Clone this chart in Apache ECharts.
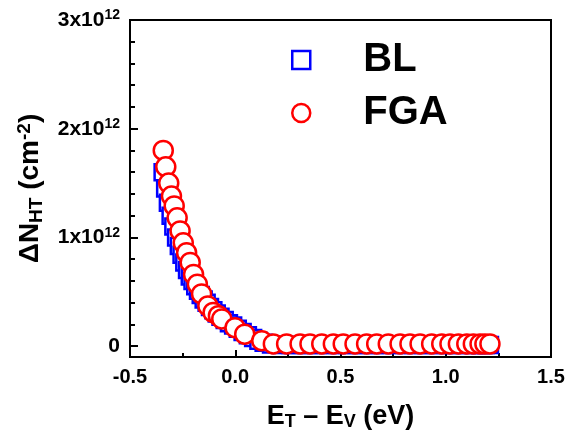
<!DOCTYPE html>
<html>
<head>
<meta charset="utf-8">
<script src="https://cdn.jsdelivr.net/npm/echarts@6/dist/echarts.min.js"></script>
<style>
  html, body { margin: 0; padding: 0; background: #fff; }
  #chart { width: 578px; height: 432px; }
</style>
</head>
<body>
<div id="chart"></div>
<script>
// Trap density vs trap energy; densities in units of 10^12 cm^-2
const blX = [-0.345, -0.333, -0.320, -0.307, -0.294, -0.281, -0.268, -0.255, -0.242, -0.229,
             -0.216, -0.203, -0.190, -0.177, -0.164, -0.150, -0.136, -0.120, -0.104, -0.088,
             -0.070, -0.050, -0.030, -0.010, 0.012, 0.035, 0.060, 0.085, 0.110, 0.135,
             0.170, 0.215, 0.260, 0.305, 0.350, 0.395, 0.440, 0.485, 0.530, 0.575,
             0.620, 0.665, 0.710, 0.755, 0.800, 0.845, 0.890, 0.935, 0.980, 1.020,
             1.060, 1.100, 1.135, 1.165, 1.190, 1.210];
const blY = [1.60, 1.45, 1.32, 1.20, 1.10, 1.00, 0.92, 0.84, 0.77, 0.70,
             0.64, 0.60, 0.55, 0.51, 0.47, 0.43, 0.40, 0.36, 0.33, 0.30,
             0.27, 0.24, 0.21, 0.19, 0.16, 0.13, 0.10, 0.075, 0.05, 0.03,
             0.015, 0.01, 0.01, 0.01, 0.01, 0.01, 0.01, 0.01, 0.01, 0.01,
             0.01, 0.01, 0.01, 0.01, 0.01, 0.01, 0.01, 0.01, 0.01, 0.01,
             0.01, 0.01, 0.01, 0.01, 0.01, 0.01];

const fgaX = [-0.342, -0.330, -0.316, -0.303, -0.290, -0.276, -0.262, -0.247, -0.231, -0.214,
              -0.198, -0.180, -0.160, -0.130, -0.105, -0.080, -0.064, -0.001, 0.045, 0.126,
              0.181, 0.244, 0.308, 0.355, 0.411, 0.466, 0.513, 0.569, 0.624, 0.672,
              0.727, 0.783, 0.830, 0.878, 0.933, 0.981, 1.020, 1.060, 1.100, 1.131,
              1.163, 1.186, 1.210];
const fgaY = [1.80, 1.65, 1.50, 1.38, 1.29, 1.18, 1.06, 0.95, 0.86, 0.77,
              0.66, 0.57, 0.48, 0.37, 0.31, 0.28, 0.25, 0.17, 0.11, 0.05,
              0.02, 0.02, 0.02, 0.02, 0.02, 0.02, 0.02, 0.02, 0.02, 0.02,
              0.02, 0.02, 0.02, 0.02, 0.02, 0.02, 0.02, 0.02, 0.02, 0.02,
              0.02, 0.02, 0.02];

const seriesNames = ['BL', 'FGA'];
const yMajorTicks = [0, 1, 2, 3];
const yMinorTicks = [0.2, 0.4, 0.6, 0.8, 1.2, 1.4, 1.6, 1.8, 2.2, 2.4, 2.6, 2.8];

const FONT = 'Arial, "Liberation Sans", Helvetica, sans-serif';
const zip = (xs, ys) => xs.map((x, i) => [x, ys[i]]);

const chart = echarts.init(document.getElementById('chart'));
chart.setOption({
  animation: false,
  backgroundColor: '#fff',
  grid: {
    left: 130, right: 27, top: 20, bottom: 75,
    outerBoundsMode: 'none',
    show: true, borderColor: '#000', borderWidth: 2, backgroundColor: 'transparent'
  },
  legend: {
    orient: 'vertical',
    left: 286, top: 35,
    itemWidth: 18, itemHeight: 18, itemGap: 13,
    textStyle: { fontFamily: FONT, fontSize: 40, fontWeight: 'bold', color: '#000', padding: [0, 0, 0, 48] },
    data: [
      { name: seriesNames[0], icon: 'rect', itemStyle: { color: '#fff', borderColor: '#0000ff', borderWidth: 2.5 } },
      { name: seriesNames[1], icon: 'circle', itemStyle: { color: '#fff', borderColor: '#ff0000', borderWidth: 2.5 } }
    ]
  },
  xAxis: {
    type: 'value', min: -0.5, max: 1.5, interval: 0.5,
    axisLine: { onZero: false, lineStyle: { color: '#000', width: 2 } },
    axisTick: { inside: true, length: 7, lineStyle: { color: '#000', width: 2 } },
    minorTick: { show: true, splitNumber: 2, length: 4, lineStyle: { color: '#000', width: 2 } },
    splitLine: { show: false },
    axisLabel: {
      margin: 10, color: '#000', fontFamily: FONT, fontSize: 20, fontWeight: 'bold',
      formatter: v => v.toFixed(1)
    },
    name: '{m|E}{s|T}{m| – E}{s|V}{m| (eV)}',
    nameLocation: 'middle', nameGap: 46,
    nameTextStyle: {
      rich: {
        m: { fontFamily: FONT, fontSize: 27, fontWeight: 'bold', color: '#000' },
        s: { fontFamily: FONT, fontSize: 18, fontWeight: 'bold', color: '#000', padding: [10, 0, 0, 0] }
      }
    }
  },
  yAxis: [
    {
      type: 'value', min: -0.1, max: 3, position: 'left',
      axisLine: { onZero: false, lineStyle: { color: '#000', width: 2 } },
      axisTick: { inside: true, length: 8, customValues: yMajorTicks, lineStyle: { color: '#000', width: 2 } },
      splitLine: { show: false },
      axisLabel: {
        margin: 10, customValues: yMajorTicks,
        formatter: v => v === 0 ? '{b|0}' : '{b|' + v + 'x10}{s|12}',
        rich: {
          b: { fontFamily: FONT, fontSize: 21, fontWeight: 'bold', color: '#000' },
          s: { fontFamily: FONT, fontSize: 14, fontWeight: 'bold', color: '#000', padding: [0, 0, 9, 0] }
        }
      },
      name: '{m|ΔN}{s|HT}{m| (cm}{p|-2}{m|)}',
      nameLocation: 'middle', nameGap: 84, nameRotate: 90,
      nameTextStyle: {
        rich: {
          m: { fontFamily: FONT, fontSize: 28, fontWeight: 'bold', color: '#000' },
          s: { fontFamily: FONT, fontSize: 19, fontWeight: 'bold', color: '#000', padding: [12, 0, 0, 0] },
          p: { fontFamily: FONT, fontSize: 19, fontWeight: 'bold', color: '#000', padding: [0, 0, 12, 0] }
        }
      }
    },
    {
      // shorter ticks between the labelled values
      type: 'value', min: -0.1, max: 3, position: 'left', offset: 0,
      axisLine: { show: false, onZero: false },
      axisTick: { inside: true, length: 5, customValues: yMinorTicks, lineStyle: { color: '#000', width: 2 } },
      axisLabel: { show: false },
      splitLine: { show: false }
    }
  ],
  series: [
    {
      name: seriesNames[0], type: 'scatter', yAxisIndex: 0,
      symbol: 'rect', symbolSize: 16,
      itemStyle: { color: '#fff', borderColor: '#0000ff', borderWidth: 2.5, opacity: 1 },
      data: zip(blX, blY), z: 2
    },
    {
      name: seriesNames[1], type: 'scatter', yAxisIndex: 0,
      symbol: 'circle', symbolSize: 19,
      itemStyle: { color: '#fff', borderColor: '#ff0000', borderWidth: 2.5, opacity: 1 },
      data: zip(fgaX, fgaY), z: 3
    }
  ]
});
</script>
</body>
</html>
